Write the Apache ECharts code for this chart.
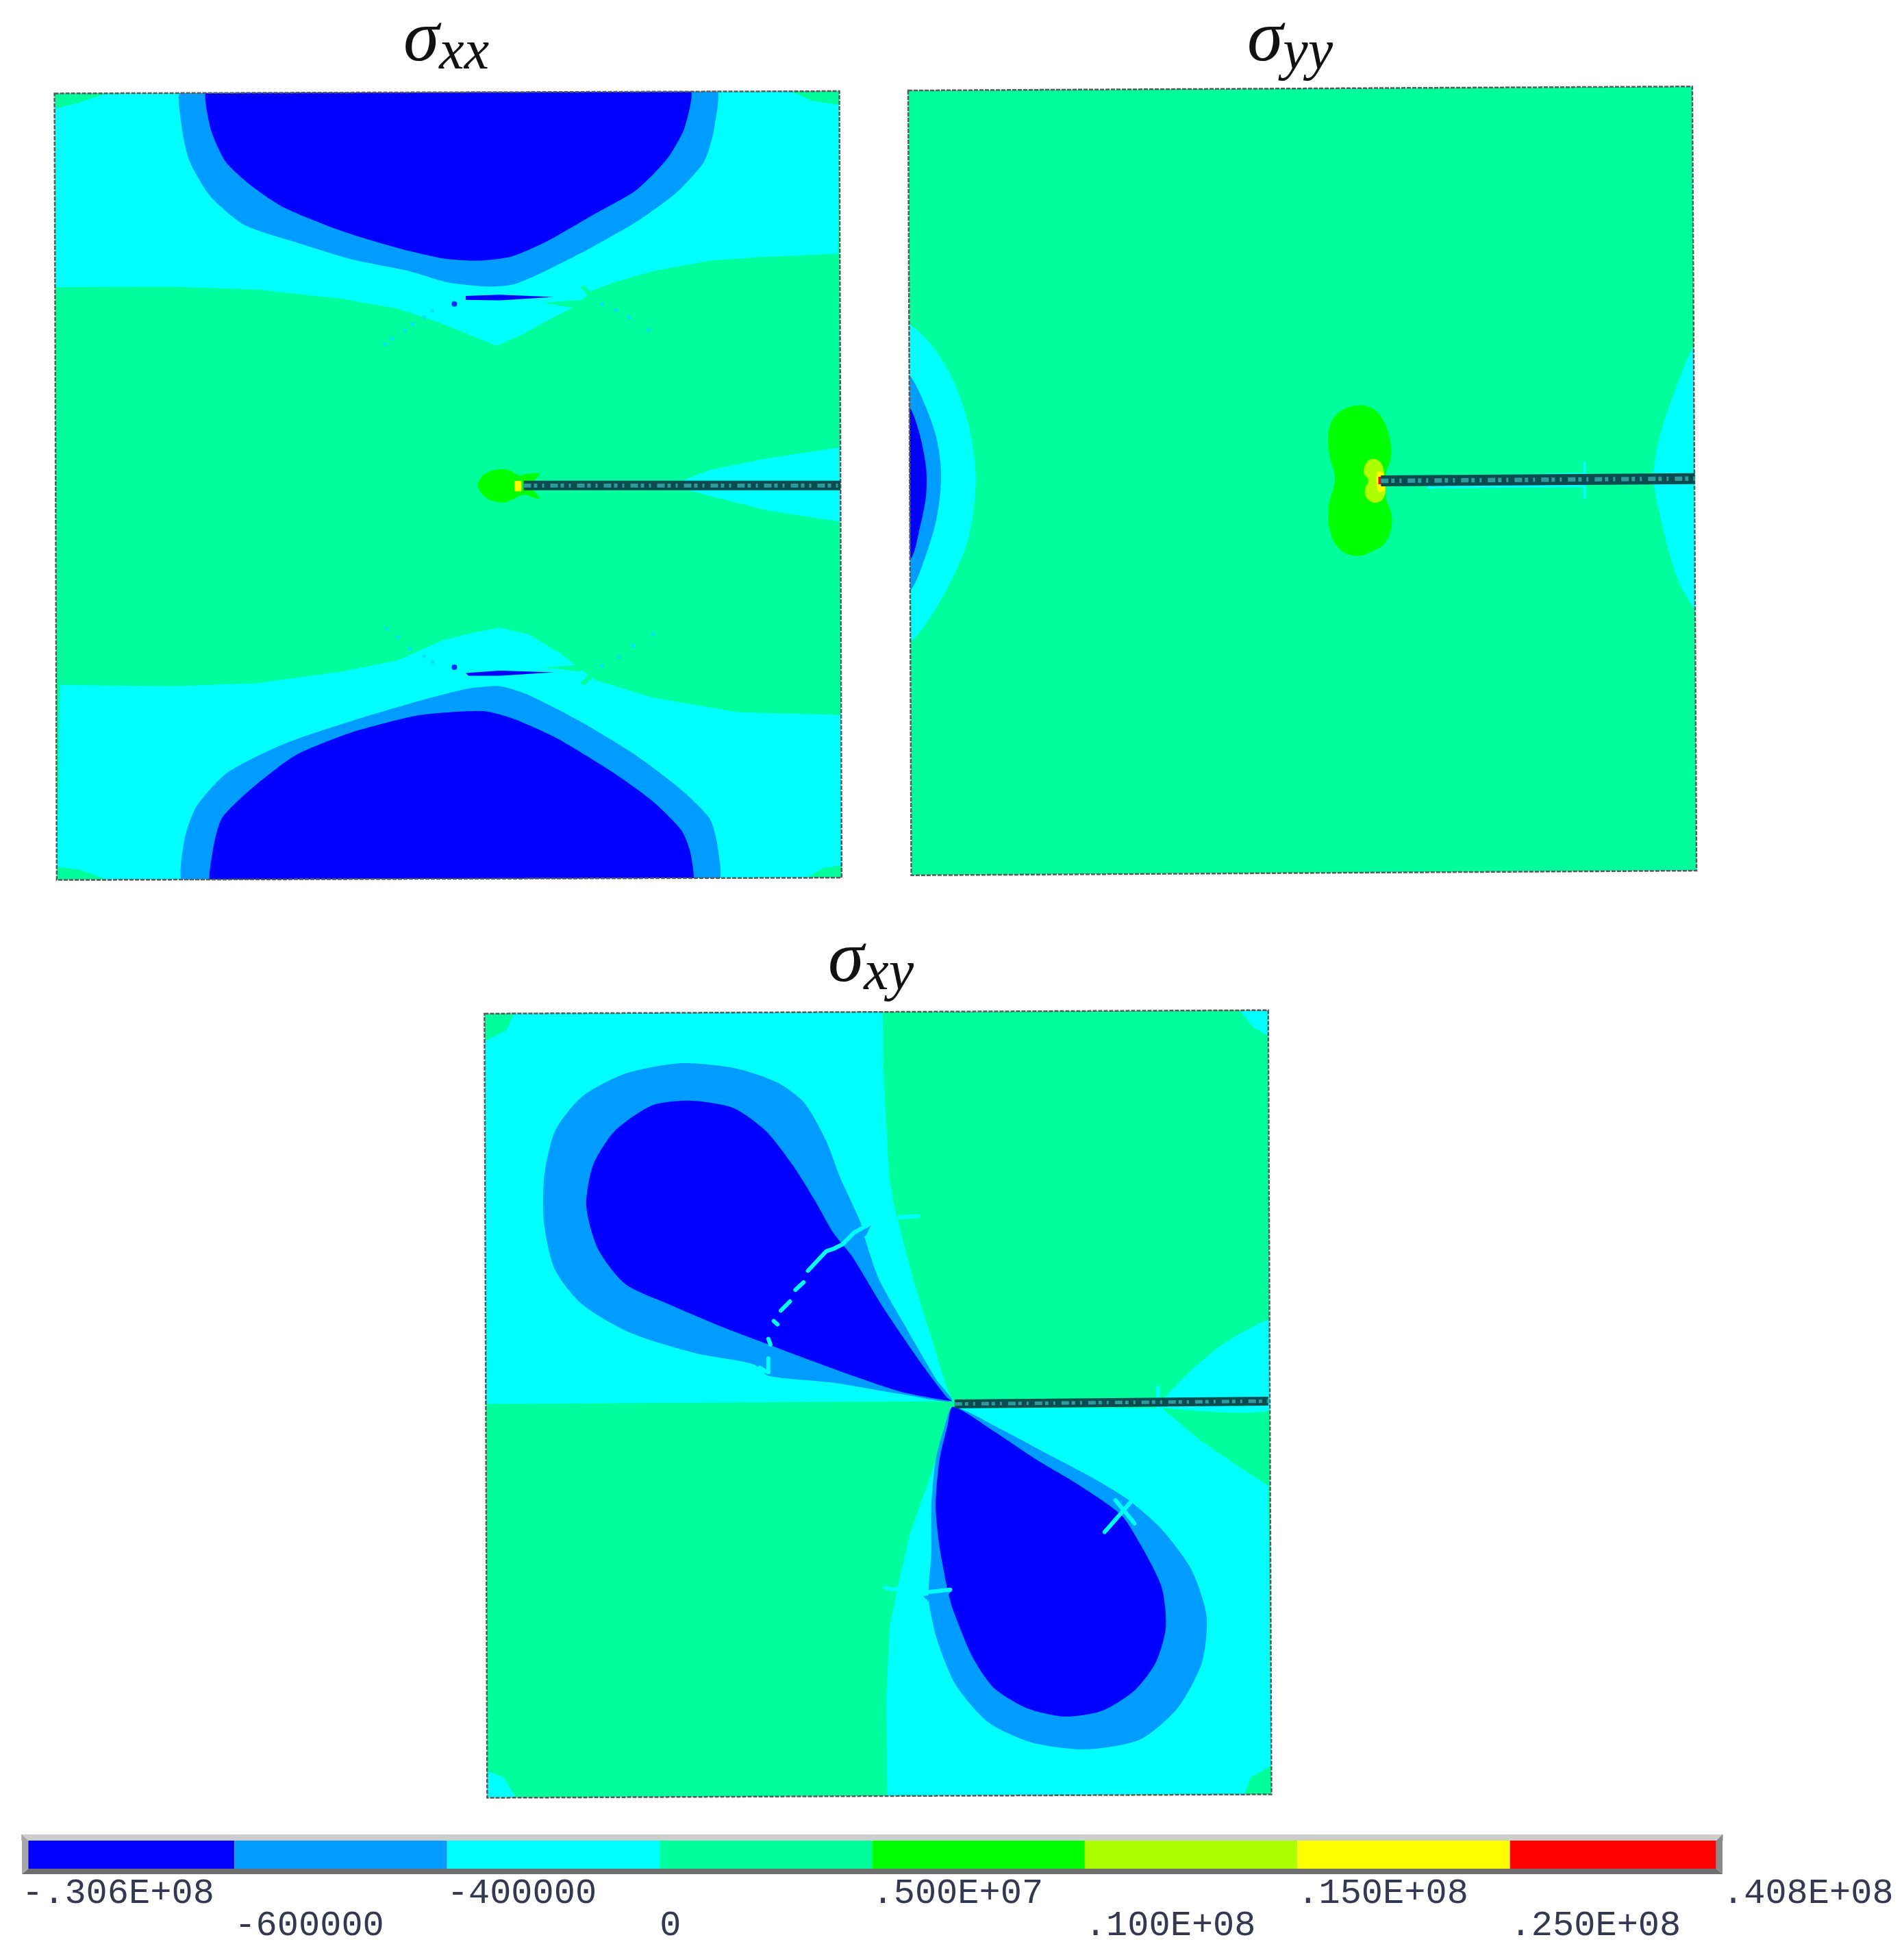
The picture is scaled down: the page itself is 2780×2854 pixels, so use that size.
<!DOCTYPE html>
<html>
<head>
<meta charset="utf-8">
<title>Stress contours</title>
<script src="https://cdn.jsdelivr.net/npm/echarts@6/dist/echarts.min.js"></script>
<style>
  html, body { margin: 0; padding: 0; background: #fff; }
  #chart { width: 2780px; height: 2854px; }
</style>
</head>
<body>
<div id="chart"></div>
<script>
// contour band colours and legend labels
const bandColors = ['#0000ff', '#009cff', '#00ffff', '#00ff9c', '#00ff00', '#aeff00', '#ffff00', '#ff0000'];
const bandLabels = ['-.306E+08', '-600000', '-400000', '0', '.500E+07', '.100E+08', '.150E+08', '.250E+08', '.408E+08'];
const [BLUE, SKY, CYAN, MINT, GREEN, LIME, YELLOW, RED] = bandColors;

// sigma xx contours
const xxFrame = [[96, 162], [1478, 158], [1482, 1522], [100, 1526]];
const xxCyanTop = [[96, 162], [1478, 158], [1476, 440], [1350, 445], [1250, 452], [1150, 470], [1080, 490], [1040, 505], [1015, 530], [965, 555], [920, 580], [875, 600], [820, 578], [770, 558], [700, 535], [600, 518], [450, 502], [300, 497], [98, 498]];
const xxSkyTop = [[322, 150], [1258, 150], [1258, 220], [1240, 280], [1190, 335], [1120, 385], [1040, 430], [960, 470], [905, 493], [860, 497], [790, 490], [720, 470], [620, 450], [520, 420], [430, 390], [370, 340], [334, 280], [320, 220]];
const xxBlueTop = [[368, 150], [1212, 150], [1206, 220], [1175, 275], [1120, 330], [1040, 375], [960, 420], [900, 445], [840, 452], [780, 448], [700, 430], [600, 400], [500, 360], [440, 320], [397, 280], [370, 220]];
const xxCyanBottom = [[105, 1188], [300, 1190], [450, 1185], [600, 1165], [700, 1145], [780, 1110], [830, 1098], [880, 1088], [930, 1100], [990, 1135], [1020, 1160], [1050, 1180], [1150, 1210], [1300, 1235], [1480, 1240], [1482, 1522], [100, 1526]];
const xxSkyBottom = [[326, 1535], [324, 1460], [345, 1400], [400, 1340], [500, 1290], [620, 1250], [740, 1215], [820, 1195], [880, 1190], [930, 1205], [1020, 1250], [1120, 1310], [1200, 1370], [1250, 1420], [1264, 1470], [1262, 1535]];
const xxBlueBottom = [[374, 1535], [374, 1480], [390, 1420], [440, 1370], [520, 1310], [620, 1270], [740, 1240], [850, 1233], [900, 1245], [980, 1280], [1080, 1340], [1150, 1390], [1200, 1440], [1216, 1480], [1216, 1535]];
const xxCorners = [
  [[96, 162], [190, 161], [140, 178], [98, 188]],
  [[1395, 159], [1478, 158], [1478, 182], [1430, 175]],
  [[100, 1503], [140, 1508], [190, 1526], [100, 1526]],
  [[1420, 1523], [1450, 1505], [1482, 1500], [1482, 1522]]
];
const xxSlits = [
  [[820, 513], [880, 511], [975, 515], [880, 521], [820, 520]],
  [[820, 1167], [880, 1163], [975, 1166], [880, 1172], [825, 1172]]
];
const xxMintStrips = [
  [[955, 525], [1030, 520], [1020, 535], [985, 530]],
  [[955, 1158], [1030, 1152], [1020, 1165], [985, 1160]],
  [[1020, 496], [1030, 496], [1052, 517], [1042, 520]],
  [[1020, 1186], [1030, 1188], [1052, 1168], [1042, 1164]]
];
const xxWake = [[1180, 842], [1250, 815], [1350, 795], [1478, 776], [1480, 905], [1350, 885], [1270, 865]];
const xxTipGreen = [[841, 842], [850, 825], [870, 815], [895, 815], [915, 825], [925, 822], [950, 822], [935, 842], [950, 865], [925, 858], [915, 860], [890, 871], [865, 868], [850, 858]];
const xxTipYellow = [[906, 834], [918, 834], [918, 852], [906, 852]];
const xxDots = [[678, 597], [690, 587], [713, 574], [727, 562], [747, 550], [761, 539], [1060, 527], [1084, 538], [1108, 550], [1142, 572], [680, 1090], [700, 1105], [722, 1125], [747, 1138], [762, 1148], [1060, 1155], [1090, 1140], [1115, 1120], [1150, 1100]];
const xxBlueDots = [[800, 527], [800, 1157]];
const xxCrack = [[922, 842], [1480, 842]];

// sigma yy contours
const yyFrame = [[34, 157], [1530, 150], [1538, 1510], [40, 1518]];
const yyCyanLeft = [[20, 562], [36, 562], [80, 600], [120, 660], [150, 740], [163, 830], [150, 930], [120, 1000], [80, 1065], [40, 1112], [20, 1112]];
const yySkyLeft = [[20, 650], [36, 650], [65, 700], [88, 760], [97, 825], [88, 900], [65, 970], [40, 1022], [20, 1022]];
const yyBlueLeft = [[20, 705], [36, 705], [55, 750], [68, 810], [68, 860], [55, 920], [40, 968], [20, 968]];
const yyCyanRight = [[1545, 600], [1533, 600], [1500, 670], [1470, 750], [1456, 825], [1470, 900], [1500, 1000], [1537, 1060], [1545, 1060]];
const yyTipGreen = [[890, 703], [925, 712], [948, 745], [955, 790], [945, 825], [945, 860], [957, 900], [945, 940], [915, 958], [890, 964], [860, 955], [840, 925], [836, 880], [848, 830], [838, 790], [836, 750], [850, 720]];
const yyTipLime = [[920, 796], [935, 802], [942, 820], [945, 845], [940, 865], [925, 872], [910, 865], [905, 850], [912, 833], [903, 820], [908, 803]];
const yyTipYellow = [[930, 818], [941, 822], [943, 850], [932, 853], [927, 836]];
const yyTipRed = [[931, 827], [939, 827], [939, 840], [931, 840]];
const yyHalo = [[1024, 826], [1324, 820], [1324, 845], [1024, 847]];
const yySpike = [[1322, 800], [1327, 800], [1327, 865], [1322, 865]];
const yyCrack = [[936, 834], [1535, 830]];

// sigma xy contours
const xyFrame = [[60, 166], [1507, 160], [1513, 1520], [65, 1526]];
const xyCyanUpper = [[60, 166], [795, 162], [797, 280], [807, 451], [818, 507], [851, 626], [914, 816], [925, 838], [62, 843]];
const xyCyanLower = [[925, 850], [1310, 850], [1380, 905], [1450, 950], [1507, 985], [1513, 1520], [803, 1522], [802, 1350], [808, 1230], [825, 1150], [845, 1070], [875, 990], [900, 920]];
const xyCyanWedge = [[1310, 838], [1370, 780], [1430, 735], [1520, 696], [1520, 850], [1310, 850]];
const xySkyUpper = [[923, 838], [830, 826], [704, 806], [584, 794], [556, 774], [450, 755], [330, 720], [240, 670], [190, 610], [170, 530], [170, 450], [190, 370], [240, 310], [320, 270], [420, 252], [520, 260], [600, 285], [650, 320], [690, 385], [717, 451], [754, 527], [763, 558], [788, 626], [830, 697], [894, 800]];
const xyBlueUpper = [[923, 838], [830, 822], [746, 796], [607, 748], [565, 733], [493, 707], [400, 670], [320, 635], [270, 575], [248, 500], [260, 430], [300, 370], [370, 325], [440, 317], [520, 330], [580, 370], [630, 430], [670, 490], [704, 546], [738, 586], [797, 677], [872, 780], [914, 832]];
const xySkyLower = [[925, 848], [1010, 885], [1100, 930], [1190, 975], [1250, 1010], [1310, 1060], [1365, 1130], [1393, 1210], [1385, 1290], [1340, 1370], [1270, 1425], [1170, 1442], [1070, 1430], [990, 1395], [930, 1330], [895, 1250], [880, 1180], [885, 1100], [885, 1020], [893, 940], [910, 880]];
const xyBlueLower = [[925, 848], [1000, 890], [1080, 940], [1160, 985], [1235, 1035], [1270, 1085], [1310, 1160], [1318, 1230], [1300, 1290], [1260, 1340], [1200, 1375], [1130, 1385], [1060, 1370], [1000, 1335], [960, 1280], [925, 1200], [915, 1165], [900, 1090], [893, 1020], [900, 940], [915, 880]];
const xyCornerMintTL = [[60, 166], [115, 165], [100, 195], [62, 213]];
const xyCornerCyanTR = [[1455, 162], [1507, 160], [1507, 205], [1480, 190]];
const xyCornerCyanBL = [[65, 1480], [95, 1490], [118, 1525], [65, 1526]];
const xyCornerMintBR = [[1462, 1520], [1475, 1490], [1512, 1470], [1513, 1520]];
const xyScratches = [
  [[657, 612], [691, 578], [704, 574], [721, 566], [742, 546], [763, 535], [805, 511]],
  [[826, 519], [860, 517]],
  [[634, 645], [649, 632]],
  [[607, 681], [624, 665]],
  [[594, 699], [601, 705]],
  [[584, 730], [588, 740]],
  [[584, 764], [584, 788]],
  [[568, 780], [578, 786]],
  [[1270, 995], [1205, 1065]],
  [[1225, 1010], [1260, 1050]],
  [[800, 1162], [815, 1165], [840, 1160], [870, 1170], [920, 1165]],
  [[1303, 815], [1303, 865]]
];
const xySkyNotches = [
  [[870, 1176], [922, 1168], [905, 1186], [880, 1186]],
  [[750, 540], [775, 530], [765, 550], [755, 558]]
];
const xyCrack = [[928, 843], [1507, 838]];

const panelFrames = [xxFrame, yyFrame, xyFrame];
const series = [];

function poly(gridIndex, pts, color, smooth) {
  series.push({
    type: 'custom',
    coordinateSystem: 'cartesian2d',
    xAxisIndex: gridIndex,
    yAxisIndex: gridIndex,
    data: pts,
    silent: true,
    renderItem: function (params, api) {
      if (params.dataIndex !== 0) return;
      const el = {
        type: 'polygon',
        shape: { points: pts.map((p) => api.coord(p)), smooth: smooth || 0 },
        style: { fill: color }
      };
      // smoothed contours may overshoot, keep them inside the panel
      if (panelFrames[gridIndex]) {
        el.clipPath = { type: 'polygon', shape: { points: panelFrames[gridIndex].map((p) => api.coord(p)) } };
      }
      return el;
    }
  });
}

function outline(gridIndex) {
  const pts = panelFrames[gridIndex];
  series.push({
    type: 'custom',
    coordinateSystem: 'cartesian2d',
    xAxisIndex: gridIndex,
    yAxisIndex: gridIndex,
    data: pts,
    silent: true,
    renderItem: function (params, api) {
      if (params.dataIndex !== 0) return;
      return {
        type: 'polygon',
        shape: { points: pts.map((p) => api.coord(p)) },
        style: { fill: 'none', stroke: '#5a5a5a', lineWidth: 2.5, lineDash: [6, 2] }
      };
    }
  });
}

function line(gridIndex, pts, color, width, dash, cap) {
  series.push({
    type: 'line',
    xAxisIndex: gridIndex,
    yAxisIndex: gridIndex,
    data: pts,
    showSymbol: false,
    silent: true,
    lineStyle: { color: color, width: width, type: dash || 'solid', cap: cap || 'round' }
  });
}

function crack(gridIndex, pts, width) {
  line(gridIndex, pts, '#0b4c50', width, null, 'butt');
  line(gridIndex, pts, '#2f9a9c', width * 0.4, [11, 4, 5, 7, 3, 9], 'butt');
}

// sigma xx
poly(0, xxFrame, MINT);
poly(0, xxCyanTop, CYAN);
poly(0, xxCyanBottom, CYAN);
xxCorners.forEach((c) => poly(0, c, MINT));
poly(0, xxSkyTop, SKY, 0.22);
poly(0, xxSkyBottom, SKY, 0.22);
poly(0, xxBlueTop, BLUE, 0.22);
poly(0, xxBlueBottom, BLUE, 0.22);
xxSlits.forEach((c) => poly(0, c, BLUE));
xxMintStrips.forEach((c) => poly(0, c, MINT));
poly(0, xxWake, CYAN);
poly(0, xxTipGreen, GREEN, 0.3);
poly(0, xxTipYellow, YELLOW);
series.push({
  type: 'scatter',
  xAxisIndex: 0,
  yAxisIndex: 0,
  data: xxDots,
  symbolSize: 6,
  silent: true,
  itemStyle: { color: '#00dcff' }
});
series.push({
  type: 'scatter',
  xAxisIndex: 0,
  yAxisIndex: 0,
  data: xxBlueDots,
  symbolSize: 8,
  silent: true,
  itemStyle: { color: BLUE }
});
crack(0, xxCrack, 14);
outline(0);

// sigma yy
poly(1, yyFrame, MINT);
poly(1, yyCyanLeft, CYAN, 0.3);
poly(1, yySkyLeft, SKY, 0.3);
poly(1, yyBlueLeft, BLUE, 0.3);
poly(1, yyCyanRight, CYAN, 0.3);
poly(1, yyHalo, CYAN);
poly(1, yySpike, CYAN);
poly(1, yyTipGreen, GREEN, 0.4);
poly(1, yyTipLime, LIME, 0.4);
poly(1, yyTipYellow, YELLOW, 0.3);
poly(1, yyTipRed, RED);
crack(1, yyCrack, 16);
outline(1);

// sigma xy
poly(2, xyFrame, MINT);
poly(2, xyCyanUpper, CYAN);
poly(2, xyCyanLower, CYAN);
poly(2, xyCyanWedge, CYAN, 0.2);
poly(2, xyCornerMintTL, MINT);
poly(2, xyCornerCyanTR, CYAN);
poly(2, xyCornerCyanBL, CYAN);
poly(2, xyCornerMintBR, MINT);
poly(2, xySkyUpper, SKY, 0.25);
poly(2, xyBlueUpper, BLUE, 0.25);
poly(2, xySkyLower, SKY, 0.25);
poly(2, xyBlueLower, BLUE, 0.25);
xyScratches.forEach((s) => line(2, s, CYAN, 6));
xySkyNotches.forEach((c) => poly(2, c, SKY));
crack(2, xyCrack, 13);
outline(2);

// legend strip: bevel and one rectangle per contour band
poly(3, [[0, 0], [8, 0], [7.97, 9], [0.03, 9]], '#cdcdcd');
poly(3, [[0, 0], [0.03, 9], [0.03, 50], [0, 58]], '#a8a8a8');
poly(3, [[8, 0], [7.97, 9], [7.97, 50], [8, 58]], '#8a8a8a');
poly(3, [[0, 58], [0.03, 50], [7.97, 50], [8, 58]], '#6f6f6f');
series.push({
  type: 'custom',
  coordinateSystem: 'cartesian2d',
  xAxisIndex: 3,
  yAxisIndex: 3,
  data: bandColors.map((c, i) => [i, i + 1]),
  silent: true,
  renderItem: function (params, api) {
    const i = params.dataIndex;
    const left = Math.max(api.value(0), 0.03);
    const right = Math.min(api.value(1), 7.97);
    const a = api.coord([left, 9]);
    const b = api.coord([right, 50]);
    return {
      type: 'rect',
      shape: { x: a[0], y: a[1], width: b[0] - a[0], height: b[1] - a[1] },
      style: { fill: bandColors[i] }
    };
  }
});

function sigmaTitle(sub, left, top) {
  return {
    text: '{s|σ}{b|' + sub + '}',
    left: left,
    top: top,
    textStyle: {
      rich: {
        s: { fontFamily: 'Liberation Serif', fontStyle: 'italic', fontWeight: 'normal', fontSize: 106, color: '#111', lineHeight: 90 },
        b: { fontFamily: 'Liberation Serif', fontStyle: 'italic', fontWeight: 'normal', fontSize: 82, color: '#111', padding: [36, 0, 0, 0], lineHeight: 90 }
      }
    }
  };
}

function hiddenAxis(index, min, max, inverse) {
  return { type: 'value', gridIndex: index, min: min, max: max, inverse: inverse, show: false };
}

const option = {
  animation: false,
  backgroundColor: '#ffffff',
  title: [
    sigmaTitle('xx', 584, 10),
    sigmaTitle('yy', 1816, 10),
    sigmaTitle('xy', 1204, 1354)
  ],
  grid: [
    { left: 74.6, top: 126.3, width: 1160.9, height: 1165.9 },
    { left: 1319.1, top: 117.8, width: 1163.3, height: 1170.1 },
    { left: 699.5, top: 1466.3, width: 1162.5, height: 1165.8 },
    { left: 32, top: 2678, width: 2483, height: 58 }
  ],
  xAxis: [
    hiddenAxis(0, 90, 1490),
    hiddenAxis(1, 25, 1545),
    hiddenAxis(2, 50, 1520),
    {
      type: 'value',
      gridIndex: 3,
      min: 0,
      max: 8,
      interval: 1,
      splitLine: { show: false },
      axisLine: { show: false },
      axisTick: { show: true, length: 9, lineStyle: { color: '#bdbdbd', width: 2 } },
      axisLabel: {
        show: true,
        showMinLabel: true,
        showMaxLabel: true,
        hideOverlap: false,
        align: 'left',
        verticalAlign: 'top',
        margin: 5,
        fontFamily: 'Liberation Mono',
        fontSize: 52,
        lineHeight: 47,
        color: '#343850',
        formatter: function (value) {
          const label = bandLabels[value];
          return value % 2 === 1 ? '\n' + label : label;
        }
      }
    }
  ],
  yAxis: [
    hiddenAxis(0, 150, 1535, true),
    hiddenAxis(1, 140, 1530, true),
    hiddenAxis(2, 150, 1535, true),
    hiddenAxis(3, 0, 58, true)
  ],
  series: series
};

const myChart = echarts.init(document.getElementById('chart'));
myChart.setOption(option);

window.addEventListener('resize', function () {
  myChart.resize();
});
</script>
</body>
</html>
